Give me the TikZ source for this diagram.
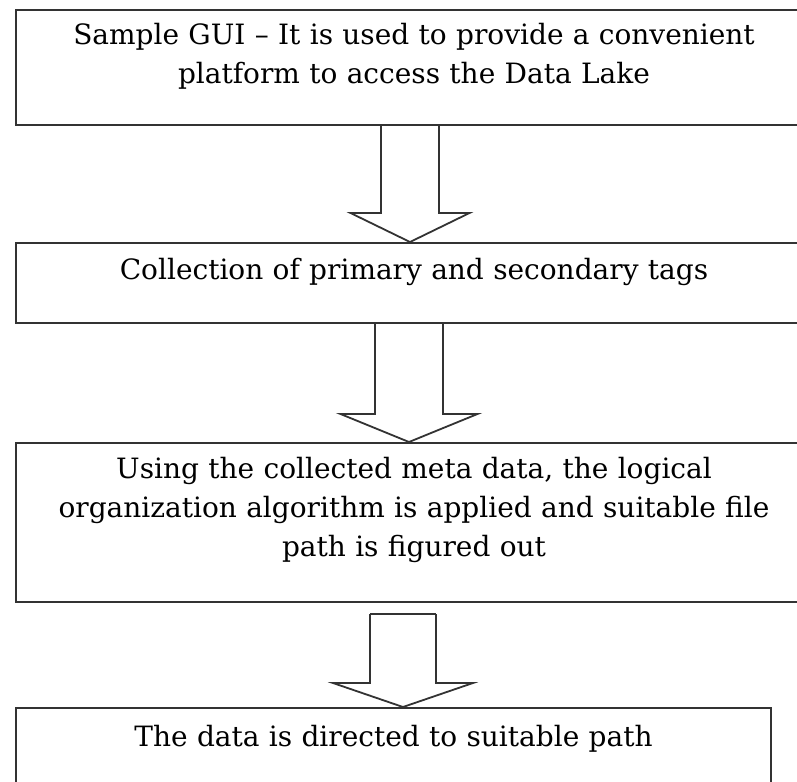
\documentclass[tikz,border=0pt]{standalone}
\usepackage{fontspec}
\setmainfont{DejaVu Serif}
\usepackage{tikz}
\usetikzlibrary{calc}

\tikzset{
	stage/.style={draw=black!80, line width=2pt, anchor=north west, inner sep=0pt},
	stagetext/.style={anchor=base, align=center, text width=760pt, inner sep=0pt,
		font=\fontsize{28}{39}\selectfont},
	fatline/.style={draw=black!80, line width=1.8pt, line join=miter},
}

% hollow block arrow: top point, tip point, shaft half width, head half width, head length
\newcommand{\fatarrow}[5]{%
	\draw[fatline] ($(#1)+(-#3,0)$) -- ($(#2)+(-#3,-#5)$) -- ($(#2)+(-#4,-#5)$) -- (#2)
		-- ($(#2)+(#4,-#5)$) -- ($(#2)+(#3,-#5)$) -- ($(#1)+(#3,0)$);
}

\begin{document}
\begin{tikzpicture}[x=1pt,y=-1pt]
		\clip (0,0) rectangle (797,781);
		\fill[white] (0,0) rectangle (797,781);
		% the four stages
		\node[stage, minimum width=796pt, minimum height=115pt] (b1) at (15,9) {};
		\node[stage, minimum width=796pt, minimum height=80pt] (b2) at (15,242) {};
		\node[stage, minimum width=796pt, minimum height=159pt] (b3) at (15,442) {};
		\node[stage, minimum width=755pt, minimum height=100pt] (b4) at (15,707) {};
		\node[stagetext] (t1) at ($(b1.north)+(0,36)$) {Sample GUI -- It is used to provide a convenient\\platform to access the Data Lake};
		\node[stagetext] (t2) at ($(b2.north)+(0,37)$) {Collection of primary and secondary tags};
		\node[stagetext] (t3) at ($(b3.north)+(0,36)$) {Using the collected meta data, the logical\\organization algorithm is applied and suitable file\\path is figured out};
		\node[stagetext] (t4) at ($(b4.north)+(0,39)$) {The data is directed to suitable path};
		% arrows between stages
		\coordinate (ax1) at (410,0);
		\coordinate (ax2) at (409,0);
		\coordinate (ax3) at (403,0);
		\coordinate (a3top) at ($(b3.south -| ax3)+(0,11)$);
		\fatarrow{b1.south -| ax1}{b2.north -| ax1}{29}{59.5}{29}
		\fatarrow{b2.south -| ax2}{b3.north -| ax2}{34}{68.5}{28}
		\fatarrow{a3top}{b4.north -| ax3}{33}{70}{24}
		\draw[fatline] ($(a3top)+(-33,0)$) -- ($(a3top)+(33,0)$);
\end{tikzpicture}
\end{document}
